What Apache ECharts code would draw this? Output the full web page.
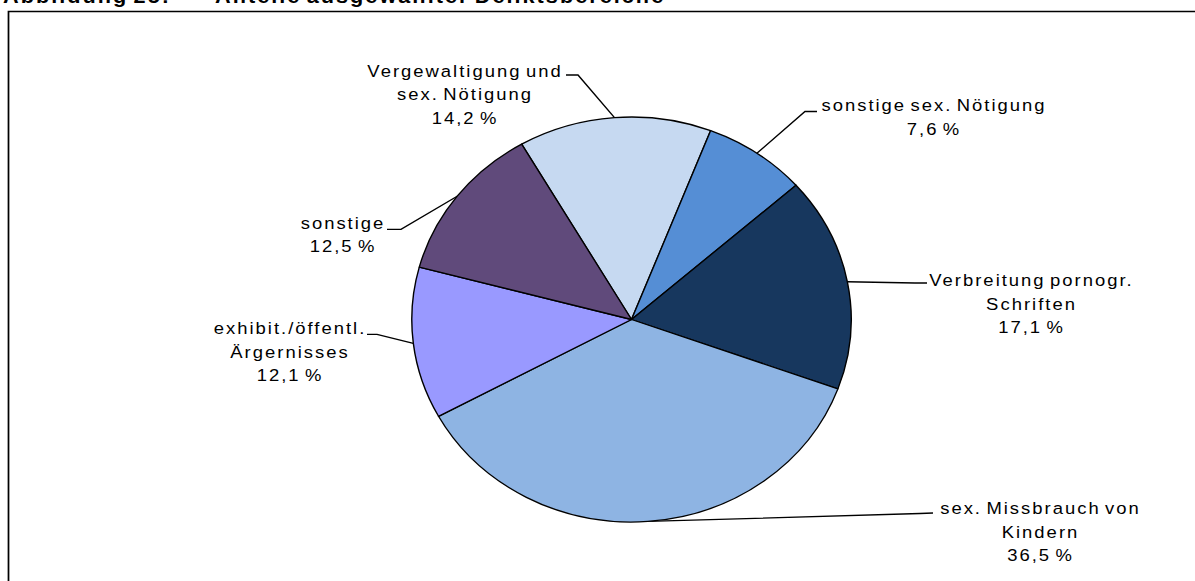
<!DOCTYPE html>
<html><head><meta charset="utf-8">
<script src="https://cdn.jsdelivr.net/npm/echarts@6/dist/echarts.min.js"></script>
<style>
html,body{margin:0;padding:0;background:#fff;overflow:hidden;width:1195px;height:581px}
#c{width:1102px;height:581px;transform:scaleX(1.085);transform-origin:0 0}
#c text{letter-spacing:1.85px;word-spacing:-2.5px}
</style></head><body><div id="c"></div>
<script>
// ---- data ----
const categories = ['Vergewaltigung und\nsex. Nötigung', 'sonstige sex. Nötigung', 'Verbreitung pornogr.\nSchriften', 'sex. Missbrauch von\nKindern', 'exhibit./öffentl.\nÄrgernisses', 'sonstige'];
const values = [14.2, 7.6, 17.1, 36.5, 12.1, 12.5];
const colors = ['#C6D9F1', '#558ED5', '#17375E', '#8EB4E3', '#9999FF', '#604A7B'];
const titleParts = ['Abbildung 25:', 'Anteile ausgewählter Deliktsbereiche'];

// ---- layout (screen coordinates) ----
const SX = 1.085;                 // horizontal stretch of the picture
const labelAnchors = [
  {x: 465,   y: 94.5, elbow: [578, 75],    end: [566, 75]},
  {x: 934,   y: 117.4, elbow: [805, 111.5], end: [817, 111.5]},
  {x: 1031.5,y: 304,  elbow: [915, 283],   end: [927, 283]},
  {x: 1040.5,y: 532,  elbow: [920, 513.5], end: [933, 513]},
  {x: 290,   y: 352,  elbow: [377, 334.3], end: [367, 334.3]},
  {x: 343,   y: 235,  elbow: [401, 229.3], end: [387, 229.3]}
];
const FONT = '"Liberation Sans", Arial, sans-serif';
const fmt = v => v.toFixed(1).replace('.', ',') + ' %';

const chart = echarts.init(document.getElementById('c'), null, {renderer: 'svg'});
chart.setOption({
  animation: false,
  backgroundColor: '#fff',
  graphic: [
    {type: 'rect', shape: {x: 8.5 / SX, y: 11.5, width: 1300, height: 800},
     style: {fill: 'none', stroke: '#000', lineWidth: 1.6}, silent: true},
    {type: 'text', x: 3 / SX, y: -4.5, style: {text: titleParts[0], font: 'bold 20px ' + FONT, fill: '#000', verticalAlign: 'middle'}, silent: true},
    {type: 'text', x: 215 / SX, y: -4.5, style: {text: titleParts[1], font: 'bold 20px ' + FONT, fill: '#000', verticalAlign: 'middle'}, silent: true}
  ],
  series: [{
    type: 'pie',
    center: [631.5 / SX, 319.5],
    radius: 202.5,
    startAngle: 120,
    clockwise: true,
    avoidLabelOverlap: false,
    silent: true,
    data: categories.map((c, i) => ({name: c, value: values[i], itemStyle: {color: colors[i]}})),
    itemStyle: {borderColor: '#000', borderWidth: 1.3},
    label: {
      show: true, position: 'outside',
      formatter: p => p.name + '\n' + fmt(p.value),
      fontFamily: FONT, fontSize: 17, lineHeight: 23.5, color: '#000', align: 'center'
    },
    labelLine: {show: true, length: 20, length2: 10, lineStyle: {color: '#000', width: 1.3}},
    labelLayout: function (params) {
      const a = labelAnchors[params.dataIndex];
      const pts = params.labelLinePoints;
      const res = {x: a.x / SX, y: a.y, align: 'center', verticalAlign: 'middle'};
      if (pts) {
        res.labelLinePoints = [pts[0], [a.elbow[0] / SX, a.elbow[1]], [a.end[0] / SX, a.end[1]]];
      }
      return res;
    }
  }]
});
</script></body></html>
